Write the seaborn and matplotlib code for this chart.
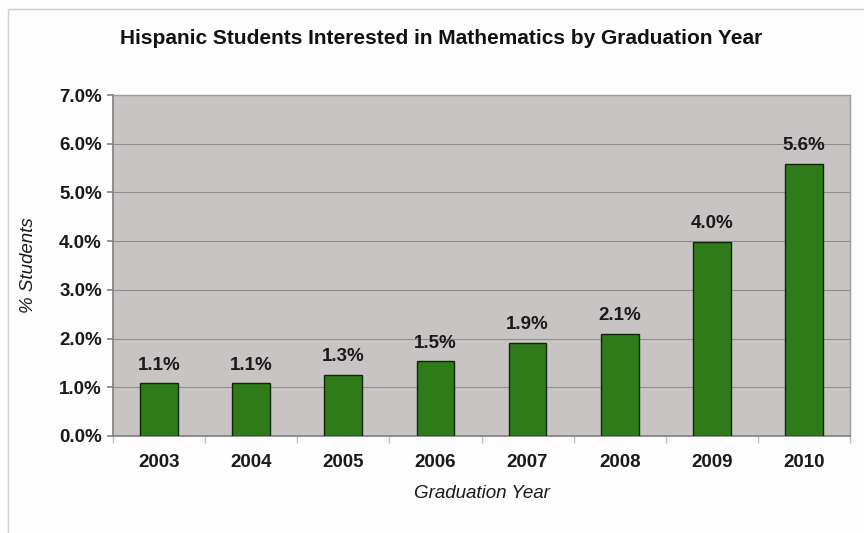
import numpy as np
import pandas as pd
import matplotlib.pyplot as plt
import seaborn as sns
from matplotlib.patches import Rectangle
from matplotlib.ticker import FixedLocator

# data
years = ["2003", "2004", "2005", "2006", "2007", "2008", "2009", "2010"]
pct = [1.08, 1.08, 1.26, 1.53, 1.91, 2.09, 3.99, 5.58]

df = pd.DataFrame({"year": years, "pct": pct})

sns.set_theme(style="white")
plt.rcParams["font.family"] = ["Liberation Sans", "DejaVu Sans"]

fig = plt.figure(figsize=(8.64, 5.33), dpi=100)
fig.patch.set_facecolor("#fdfdfd")
# thin frame around the chart area
fig.patches.append(Rectangle((8 / 864, -0.01), 1.0, 1 - 9 / 533 + 0.01,
                             transform=fig.transFigure, fill=False,
                             edgecolor="#cfcfcf", linewidth=1))

ax = fig.add_axes([113 / 864, 97 / 533, 737 / 864, 341 / 533])
ax.set_facecolor("#c8c4c4")

sns.barplot(data=df, x="year", y="pct", color="#2f7a19", width=0.41,
            edgecolor="#102508", linewidth=1, saturation=1, ax=ax, zorder=3)

for i, v in enumerate(pct):
    ax.text(i, v + 0.2, f"{v:.1f}%", ha="center", va="bottom",
            fontsize=13.5, fontweight="bold", color="#1a1a1a")

ax.set_ylim(0, 7)
ax.set_xlim(-0.5, len(years) - 0.5)
ax.set_yticks(np.arange(0, 7.01, 1))
ax.set_yticklabels([f"{t:.1f}%" for t in np.arange(0, 7.01, 1)],
                   fontsize=13.5, fontweight="bold", color="#1a1a1a")
ax.set_xticks(range(len(years)))
ax.set_xticklabels(years, fontsize=13.5, fontweight="bold", color="#1a1a1a")
ax.tick_params(axis="x", length=0, pad=13)
ax.tick_params(axis="y", length=4, color="#888888", pad=4, left=True)
ax.xaxis.set_minor_locator(FixedLocator(np.arange(-0.5, len(years), 1)))
ax.tick_params(axis="x", which="minor", length=5, color="#bbbbbb", bottom=True)

ax.yaxis.grid(True, color="#8e8e8e", linewidth=0.8, zorder=0)
ax.set_axisbelow(True)
for s in ["top", "right"]:
    ax.spines[s].set_color("#9a9a9a")
    ax.spines[s].set_linewidth(1)
ax.spines["left"].set_color("#808080")
ax.spines["bottom"].set_color("#808080")
ax.spines["left"].set_linewidth(1.2)
ax.spines["bottom"].set_linewidth(1.2)

ax.set_xlabel("Graduation Year", fontsize=13.5, fontstyle="italic",
              color="#1a1a1a", labelpad=10)
ax.set_ylabel("% Students", fontsize=13.5, fontstyle="italic",
              color="#1a1a1a", labelpad=16)

fig.text(441 / 864, 1 - 38 / 533,
         "Hispanic Students Interested in Mathematics by Graduation Year",
         ha="center", va="center", fontsize=15, fontweight="bold",
         color="#111111")

fig.savefig("out.png", dpi=100, facecolor=fig.get_facecolor())
